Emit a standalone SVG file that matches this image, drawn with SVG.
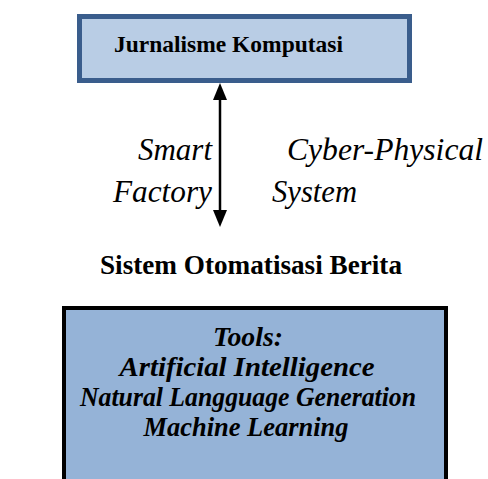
<svg xmlns="http://www.w3.org/2000/svg" width="488" height="479" viewBox="0 0 488 479">
  <style>
    .head { font-family: "Liberation Serif", "Times New Roman", serif; font-weight: bold; fill: #000; }
    .lbl { font-family: "Liberation Serif", "Times New Roman", serif; font-style: italic; font-size: 30.5px; fill: #000; }
    .tool { font-family: "Liberation Serif", "Times New Roman", serif; font-weight: bold; font-style: italic; font-size: 26.5px; fill: #000; text-anchor: middle; }
  </style>
  <rect width="488" height="479" fill="#fff"/>

  <!-- upper process box -->
  <g id="jurnalisme">
    <rect x="79.5" y="16.5" width="330" height="64" fill="#b9cde5" stroke="#3a5d8c" stroke-width="5"/>
    <text class="head" x="114" y="52" font-size="23.5" textLength="229" lengthAdjust="spacingAndGlyphs">Jurnalisme Komputasi</text>
  </g>

  <!-- two-way arrow between the layers -->
  <g id="connectors">
    <line x1="220" y1="98" x2="220" y2="212" stroke="#000" stroke-width="2.5"/>
    <polygon points="220,83 213,100 227,100" fill="#000"/>
    <polygon points="220,227 213,210 227,210" fill="#000"/>
  </g>

  <g id="labels">
    <text class="lbl" x="138" y="160" textLength="74" lengthAdjust="spacingAndGlyphs">Smart</text>
    <text class="lbl" x="113" y="202" textLength="99" lengthAdjust="spacingAndGlyphs">Factory</text>
    <text class="lbl" x="287" y="160" textLength="196" lengthAdjust="spacingAndGlyphs">Cyber-Physical</text>
    <text class="lbl" x="272" y="202" textLength="85" lengthAdjust="spacingAndGlyphs">System</text>
  </g>

  <g id="sistem">
    <text class="head" x="100" y="274" font-size="27" textLength="302" lengthAdjust="spacingAndGlyphs">Sistem Otomatisasi Berita</text>
  </g>

  <!-- lower box, open at the bottom edge -->
  <g id="tools">
    <rect x="64" y="308" width="382" height="200" fill="#95b3d7" stroke="#000" stroke-width="4"/>
    <text class="tool" x="248" y="346" textLength="70" lengthAdjust="spacingAndGlyphs">Tools:</text>
    <text class="tool" x="247" y="376" textLength="255" lengthAdjust="spacingAndGlyphs">Artificial Intelligence</text>
    <text class="tool" x="248" y="406" textLength="336" lengthAdjust="spacingAndGlyphs">Natural Langguage Generation</text>
    <text class="tool" x="246" y="436" textLength="205" lengthAdjust="spacingAndGlyphs">Machine Learning</text>
  </g>
</svg>
